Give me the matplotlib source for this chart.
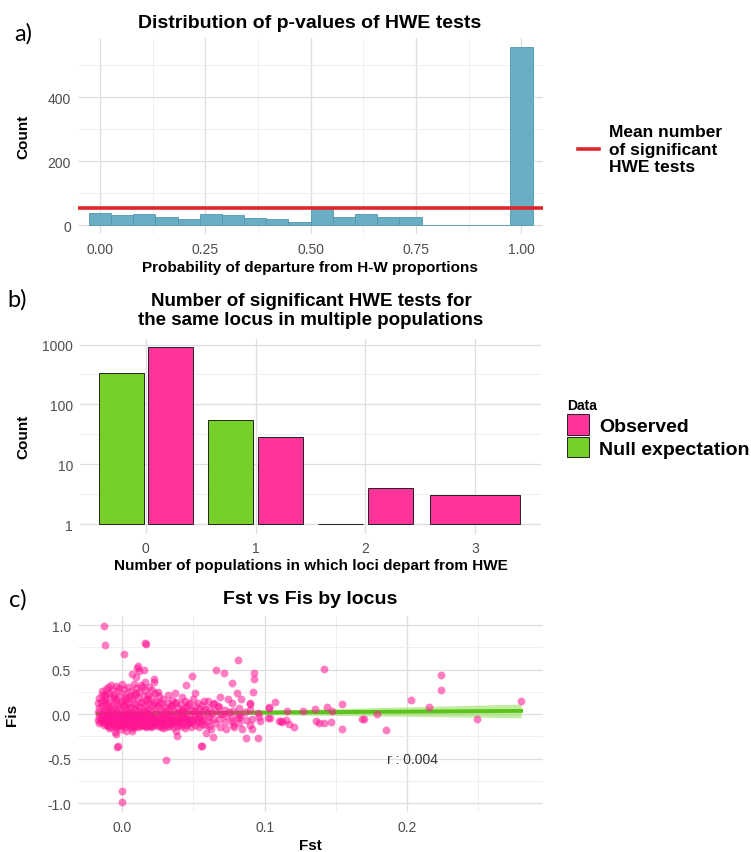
import matplotlib
matplotlib.use('Agg')
import matplotlib.pyplot as plt
import numpy as np
from matplotlib.lines import Line2D
from matplotlib.patches import Patch

plt.rcParams['font.family'] = ['Liberation Sans', 'DejaVu Sans']

# ---- a) p-values of HWE tests (20 bins over 0..1) ----
hwe_counts = [37, 31, 36, 25, 19, 36, 33, 23, 19, 10, 50, 25, 36, 24, 24, 0, 0, 0, 0, 559]
mean_sig_tests = 52
a_xticks = [0.0, 0.25, 0.5, 0.75, 1.0]
a_xticklabels = ['0.00', '0.25', '0.50', '0.75', '1.00']
a_yticks = [0, 200, 400]

# ---- b) significant HWE tests per locus ----
n_pops = [0, 1, 2, 3]
observed = [927, 29, 4, 3]
null_pops = [0, 1, 2]
null_exp = [333, 54, 1]
b_yticks = [1, 10, 100, 1000]

# ---- c) Fst vs Fis ----
loci_outliers = [
    (-0.0127, 0.99), (-0.012, 0.78), (0.001, 0.67), (0.0107, 0.52), (0.0072, 0.45),
    (-0.0045, -0.22), (-0.0033, -0.37), (-0.003, -0.36), (0.0002, -0.86), (0.0, -0.99),
    (0.007, -0.19), (0.0166, 0.79), (0.0162, 0.80), (0.0114, 0.54), (0.0224, 0.39),
    (0.0226, 0.36), (0.0248, 0.25), (0.037, 0.24), (0.0488, 0.43), (0.0446, 0.33),
    (0.051, 0.24), (0.0388, -0.25), (0.0306, -0.52), (0.055, -0.36),
    (0.0816, 0.61), (0.0657, 0.50), (0.0715, 0.46), (0.0769, 0.35), (0.0926, 0.46),
    (0.0926, 0.39), (0.092, 0.25), (0.0804, 0.24), (0.0832, 0.17), (0.090, 0.13),
    (0.0895, 0.11), (0.097, -0.075), (0.0914, -0.17), (0.0867, -0.27), (0.095, -0.27),
    (0.0844, -0.17), (0.0785, -0.15), (0.0727, -0.17), (0.064, -0.26), (0.0563, -0.36),
    (0.062, -0.17), (0.0587, -0.21), (0.069, 0.19), (0.074, 0.17), (0.0575, 0.15),
    (0.0645, 0.13), (0.067, 0.09), (0.081, -0.04), (0.082, -0.01), (0.0774, -0.075),
    (0.071, 0.0), (0.075, 0.02), (0.102, -0.04), (0.103, 0.075),
    (0.1417, 0.51), (0.1073, 0.14), (0.103, 0.07), (0.1036, -0.04), (0.1113, -0.075),
    (0.115, -0.07), (0.117, -0.11), (0.1206, -0.15), (0.110, -0.08), (0.1125, -0.085),
    (0.116, 0.04), (0.127, 0.03), (0.1354, 0.056), (0.1436, 0.082), (0.1476, 0.037),
    (0.136, -0.075), (0.138, -0.105), (0.1417, -0.105), (0.1464, -0.094), (0.154, 0.11),
    (0.1546, -0.17), (0.1686, -0.056), (0.170, -0.05), (0.179, 0.0), (0.185, -0.18),
    (0.2236, 0.44), (0.224, 0.27), (0.2025, 0.157), (0.2154, 0.082), (0.2493, -0.056),
    (0.28, 0.142),
]
loci_cluster = [
    (-0.016, 0.18), (-0.017, 0.12), (-0.016, 0.07), (-0.017, 0.02), (-0.016, -0.03),
    (-0.017, -0.07), (-0.016, -0.10), (-0.015, 0.14), (-0.015, -0.02), (-0.015, -0.06),
    (-0.014, 0.22), (-0.013, 0.15), (-0.014, 0.09), (-0.013, 0.04), (-0.014, 0.0),
    (-0.013, -0.05), (-0.014, -0.09), (-0.013, -0.12), (-0.014, 0.26),
    (-0.012, 0.20), (-0.011, 0.11), (-0.012, 0.06), (-0.011, -0.02), (-0.012, -0.06),
    (-0.011, -0.11), (-0.012, 0.16), (-0.011, 0.28),
    (-0.010, 0.30), (-0.009, 0.24), (-0.010, 0.13), (-0.009, 0.08), (-0.010, 0.03),
    (-0.009, -0.01), (-0.010, -0.04), (-0.009, -0.08), (-0.010, -0.13), (-0.009, -0.16),
    (-0.009, -0.09), (-0.008, -0.05), (-0.009, 0.0),
    (-0.008, 0.19), (-0.007, 0.10), (-0.008, 0.05), (-0.007, -0.03), (-0.008, -0.07),
    (-0.007, -0.10), (-0.008, -0.14), (-0.007, 0.27), (-0.008, 0.33),
    (-0.006, 0.22), (-0.005, 0.14), (-0.006, 0.06), (-0.005, 0.01), (-0.006, -0.05),
    (-0.005, -0.09), (-0.006, -0.12), (-0.005, -0.20),
    (-0.004, 0.32), (-0.003, 0.26), (-0.004, 0.17), (-0.003, 0.10), (-0.004, 0.03),
    (-0.003, -0.02), (-0.004, -0.06), (-0.003, -0.11), (-0.004, -0.15),
    (-0.003, -0.03), (-0.002, -0.09), (-0.003, -0.12),
    (-0.002, 0.20), (-0.001, 0.12), (-0.002, 0.07), (-0.001, 0.0), (-0.002, -0.04),
    (-0.001, -0.08), (-0.002, -0.13), (-0.001, -0.17),
    (0.000, 0.34), (0.001, 0.28), (0.000, 0.15), (0.001, 0.09), (0.000, 0.04),
    (0.001, -0.01), (0.000, -0.05), (0.001, -0.10), (0.000, -0.12),
    (0.002, 0.23), (0.003, 0.16), (0.002, 0.11), (0.003, 0.05), (0.002, 0.0),
    (0.003, -0.03), (0.002, -0.07), (0.003, -0.11), (0.002, -0.14), (0.003, -0.19),
    (0.003, -0.06), (0.004, -0.10), (0.003, -0.02),
    (0.004, 0.30), (0.005, 0.19), (0.004, 0.12), (0.005, 0.07), (0.004, 0.01),
    (0.005, -0.04), (0.004, -0.09), (0.005, -0.13),
    (0.006, 0.26), (0.007, 0.17), (0.006, 0.08), (0.007, 0.02), (0.006, -0.02),
    (0.007, -0.06), (0.006, -0.10), (0.007, -0.16),
    (0.008, 0.34), (0.009, 0.21), (0.008, 0.13), (0.009, 0.06), (0.008, 0.0),
    (0.009, -0.05), (0.008, -0.08), (0.009, -0.12), (0.008, -0.15),
    (0.009, -0.03), (0.010, -0.09), (0.009, -0.13),
    (0.010, 0.29), (0.011, 0.18), (0.010, 0.10), (0.011, 0.04), (0.010, -0.01),
    (0.011, -0.06), (0.010, -0.11), (0.011, -0.14), (0.010, 0.42),
    (0.012, 0.25), (0.013, 0.14), (0.012, 0.08), (0.013, 0.02), (0.012, -0.03),
    (0.013, -0.07), (0.012, -0.10), (0.013, -0.13), (0.012, 0.48),
    (0.014, 0.31), (0.015, 0.20), (0.014, 0.12), (0.015, 0.05), (0.014, -0.02),
    (0.015, -0.06), (0.014, -0.12), (0.015, 0.50),
    (0.015, -0.01), (0.016, -0.09), (0.015, -0.12),
    (0.016, 0.27), (0.017, 0.16), (0.016, 0.09), (0.017, 0.03), (0.016, -0.04),
    (0.017, -0.08), (0.016, -0.11), (0.017, -0.14), (0.016, 0.36),
    (0.018, 0.22), (0.019, 0.13), (0.018, 0.06), (0.019, 0.0), (0.018, -0.05),
    (0.019, -0.10), (0.018, -0.13), (0.019, 0.30),
    (0.020, 0.19), (0.021, 0.10), (0.020, 0.04), (0.021, -0.02), (0.020, -0.07),
    (0.021, -0.11), (0.020, -0.15), (0.021, 0.27),
    (0.021, -0.04), (0.022, -0.09), (0.021, -0.13),
    (0.023, 0.24), (0.024, 0.15), (0.023, 0.07), (0.024, 0.01), (0.023, -0.04),
    (0.024, -0.09), (0.023, -0.12),
    (0.026, 0.12), (0.027, 0.05), (0.026, -0.01), (0.027, -0.06), (0.026, -0.10),
    (0.027, -0.14), (0.026, 0.20), (0.027, -0.03), (0.028, -0.08), (0.027, -0.12),
    (0.029, 0.17), (0.030, 0.08), (0.029, 0.02), (0.030, -0.03), (0.029, -0.08),
    (0.030, -0.12), (0.029, -0.16),
    (0.032, 0.13), (0.033, 0.06), (0.032, 0.0), (0.033, -0.05), (0.032, -0.10),
    (0.033, -0.13), (0.032, 0.21), (0.033, -0.02), (0.034, -0.08),
    (0.035, 0.10), (0.036, 0.03), (0.035, -0.02), (0.036, -0.07), (0.035, -0.11),
    (0.036, -0.15), (0.035, 0.16),
    (0.038, 0.14), (0.039, 0.07), (0.038, 0.01), (0.039, -0.04), (0.038, -0.09),
    (0.039, -0.13), (0.038, -0.19), (0.039, -0.06), (0.040, -0.11),
    (0.041, 0.11), (0.042, 0.04), (0.041, -0.01), (0.042, -0.06), (0.041, -0.10),
    (0.042, 0.19),
    (0.044, 0.15), (0.045, 0.08), (0.044, 0.02), (0.045, -0.03), (0.044, -0.08),
    (0.045, -0.12), (0.044, -0.16), (0.045, -0.05), (0.046, -0.10),
    (0.047, 0.12), (0.048, 0.05), (0.047, -0.01), (0.048, -0.05), (0.047, -0.10),
    (0.048, -0.14),
    (0.050, 0.17), (0.051, 0.09), (0.050, 0.03), (0.051, -0.02), (0.050, -0.07),
    (0.051, -0.12),
    (0.053, 0.13), (0.054, 0.06), (0.053, 0.0), (0.054, -0.04), (0.053, -0.09),
    (0.054, -0.15),
    (0.056, 0.10), (0.057, 0.04), (0.056, -0.02), (0.057, -0.06), (0.056, -0.11),
    (0.060, 0.15), (0.061, 0.07), (0.060, 0.01), (0.061, -0.03), (0.060, -0.08),
    (0.061, -0.13),
    (0.064, 0.11), (0.065, 0.03), (0.064, -0.05), (0.065, -0.10),
    (0.068, 0.08), (0.069, 0.0), (0.068, -0.06), (0.069, -0.14),
    (0.072, 0.05), (0.073, -0.02), (0.072, -0.09),
    (0.077, 0.12), (0.078, 0.04), (0.077, -0.04), (0.078, -0.12),
    (0.082, 0.07), (0.083, -0.03), (0.082, -0.10),
    (0.086, 0.02), (0.087, -0.07),
    (0.090, 0.05), (0.091, -0.05), (0.090, -0.12),
    (0.095, 0.01), (0.096, -0.03),
]
loci_core = [
    (-0.015, -0.08), (-0.013, -0.03), (-0.011, -0.08), (-0.010, -0.12), (-0.007, -0.06),
    (-0.006, -0.01), (-0.005, -0.13), (-0.003, -0.07), (-0.001, -0.12), (0.000, -0.03),
    (0.001, -0.07), (0.002, -0.11), (0.004, -0.06), (0.005, -0.01), (0.006, -0.13),
    (0.007, -0.09), (0.008, -0.04), (0.010, -0.07), (0.011, -0.12), (0.012, -0.01),
    (0.013, -0.09), (0.014, -0.05), (0.016, -0.13), (0.017, -0.02), (0.018, -0.08),
    (0.019, -0.12), (0.020, -0.03), (0.022, -0.06), (0.023, -0.10), (0.025, -0.07),
    (0.025, -0.13), (0.028, -0.04), (0.029, -0.10), (0.031, -0.06), (0.031, -0.14),
    (0.034, -0.11), (0.036, -0.04), (0.037, -0.09), (0.040, -0.07), (0.042, -0.13),
    (0.043, -0.04), (0.046, -0.07), (0.049, -0.09), (0.052, -0.06), (0.055, -0.08),
    (0.058, -0.12),
    (-0.012, 0.23), (-0.006, 0.18), (-0.002, 0.29), (0.002, 0.19), (0.006, 0.22),
    (0.010, 0.24), (0.013, 0.33), (0.018, 0.17), (0.022, 0.12), (0.025, 0.09),
    (0.028, 0.13), (0.031, 0.04), (0.034, 0.09), (0.037, 0.12), (0.040, 0.02),
    (0.043, 0.06), (0.046, 0.10), (0.052, 0.03), (0.058, 0.06), (0.063, 0.01),
]
# linear fit reported on the chart (lm + 95% band)
fit_intercept = 0.008
fit_slope = 0.10
n_loci = 963
fis_resid_sd = 0.19
fst_mean = 0.028
fst_sd = 0.04
r_label = 'r : 0.004'
c_yticks = [-1.0, -0.5, 0.0, 0.5, 1.0]
c_yticklabels = ['-1.0', '-0.5', '0.0', '0.5', '1.0']
c_xticks = [0.0, 0.1, 0.2]
c_xticklabels = ['0.0', '0.1', '0.2']

# colours
hist_fill = '#69AEC4'
hist_edge = '#5397AD'
mean_red = '#E0262C'
pink = '#FF3399'
green = '#77CF2A'
point_pink = '#FF1493'
fit_green = '#5CC21C'
grid_major = '#DEDEDE'
grid_minor = '#EDEDED'
tick_grey = '#4D4D4D'

W, H = 751, 853
fig = plt.figure(figsize=(W / 100, H / 100), dpi=100)


def px(x, y):
    return x / W, 1 - y / H


def style(ax, xpad, ypad):
    for s in ax.spines.values():
        s.set_visible(False)
    ax.grid(True, which='major', color=grid_major, lw=0.9)
    ax.grid(True, which='minor', color=grid_minor, lw=0.6)
    ax.set_axisbelow(True)
    ax.tick_params(which='both', length=0, labelsize=10, labelcolor=tick_grey)
    ax.tick_params(axis='x', pad=xpad)
    ax.tick_params(axis='y', pad=ypad)


# ---------- a ----------
ax_a = fig.add_axes([78 / W, 1 - 235 / H, 464.5 / W, 196.4 / H])
bin_w = 1 / 19
centers = np.arange(len(hwe_counts)) * bin_w
ax_a.bar(centers, hwe_counts, width=bin_w, color=hist_fill, edgecolor=hist_edge, lw=0.6)
ax_a.axhline(mean_sig_tests, color=mean_red, lw=2.6)
ax_a.set_xlim(-0.052, 1.05)
ax_a.set_ylim(-28, 587)
ax_a.set_xticks(a_xticks)
ax_a.set_xticklabels(a_xticklabels)
ax_a.set_xticks([0.125, 0.375, 0.625, 0.875], minor=True)
ax_a.set_yticks(a_yticks)
ax_a.set_yticks([100, 300, 500], minor=True)
style(ax_a, 5.5, 5)
leg_a = ax_a.legend([Line2D([], [], color=mean_red, lw=2.6)],
                    ['Mean number\nof significant\nHWE tests'],
                    loc='center left', bbox_to_anchor=px(578, 150), bbox_transform=fig.transFigure,
                    frameon=False, borderpad=0, borderaxespad=0, handlelength=1.2,
                    handletextpad=0.6, prop={'weight': 'bold', 'size': 12.5})

fig.text(*px(310, 23), 'Distribution of p-values of HWE tests', ha='center', va='center',
         fontsize=14, fontweight='bold')
fig.text(*px(310, 268), 'Probability of departure from H-W proportions', ha='center',
         va='center', fontsize=11, fontweight='bold')
fig.text(*px(23, 137), 'Count', rotation=90, ha='center', va='center', fontsize=11,
         fontweight='bold')

# ---------- b ----------
ax_b = fig.add_axes([80 / W, 1 - 534.6 / H, 461 / W, 195 / H])
ax_b.set_yscale('log')
bw = 0.41
ax_b.bar(np.array(null_pops) - 0.225, np.array(null_exp) - 1, bottom=1, width=bw,
         color=green, edgecolor='#222222', lw=0.7)
obs_x = [p + 0.225 if p in null_pops else p for p in n_pops]
obs_w = [bw if p in null_pops else 0.82 for p in n_pops]
ax_b.bar(obs_x, np.array(observed) - 1, bottom=1, width=obs_w, color=pink,
         edgecolor='#222222', lw=0.7)
ax_b.set_xlim(-0.6, 3.6)
ax_b.set_ylim(10 ** -0.16, 10 ** 3.1)
ax_b.set_xticks(n_pops)
ax_b.set_xticklabels([str(p) for p in n_pops])
ax_b.set_yticks(b_yticks)
ax_b.set_yticklabels([str(t) for t in b_yticks])
ax_b.set_yticks([10 ** 0.5, 10 ** 1.5, 10 ** 2.5], minor=True)
ax_b.yaxis.set_minor_formatter(plt.NullFormatter())
style(ax_b, 5, 5)
ax_b.xaxis.grid(True, which='minor', color='none')
leg_b = ax_b.legend([Patch(facecolor=pink, edgecolor='#222222', lw=0.7),
                     Patch(facecolor=green, edgecolor='#222222', lw=0.7)],
                    ['Observed', 'Null expectation'], title='Data',
                    loc='upper left', bbox_to_anchor=px(567, 399), bbox_transform=fig.transFigure,
                    frameon=False, borderpad=0, borderaxespad=0, handlelength=1.15,
                    handleheight=1.25, handletextpad=0.5, labelspacing=0.1,
                    alignment='left', prop={'weight': 'bold', 'size': 14},
                    title_fontproperties={'weight': 'bold', 'size': 10})

fig.text(*px(311, 311), 'Number of significant HWE tests for\nthe same locus in multiple populations',
         ha='center', va='center', fontsize=13.5, fontweight='bold', linespacing=1.12)
fig.text(*px(311, 566), 'Number of populations in which loci depart from HWE', ha='center',
         va='center', fontsize=11, fontweight='bold')
fig.text(*px(23, 437), 'Count', rotation=90, ha='center', va='center', fontsize=11,
         fontweight='bold')

# ---------- c ----------
ax_c = fig.add_axes([78 / W, 1 - 813 / H, 464.5 / W, 195.8 / H])
pts = np.array(loci_cluster + loci_core + loci_outliers)
fst, fis = pts[:, 0], pts[:, 1]
xs = np.linspace(fst.min(), fst.max(), 100)
yfit = fit_intercept + fit_slope * xs
half = 1.96 * fis_resid_sd * np.sqrt(1 / n_loci + (xs - fst_mean) ** 2 / ((n_loci - 1) * fst_sd ** 2))
ax_c.fill_between(xs, yfit - half, yfit + half, color='#86DC45', alpha=0.5, lw=0)
ax_c.plot(xs, yfit, color=fit_green, lw=2.8)
ax_c.scatter(fst, fis, s=32, color=point_pink, alpha=0.55, lw=0, zorder=3)
ax_c.text(0.186, -0.5, r_label, fontsize=10, color='#333333', va='center', ha='left')
ax_c.set_xlim(-0.031, 0.295)
ax_c.set_ylim(-1.1, 1.1)
ax_c.set_xticks(c_xticks)
ax_c.set_xticklabels(c_xticklabels)
ax_c.set_xticks([0.05, 0.15, 0.25], minor=True)
ax_c.set_yticks(c_yticks)
ax_c.set_yticklabels(c_yticklabels)
ax_c.set_yticks([-0.75, -0.25, 0.25, 0.75], minor=True)
style(ax_c, 6, 5)

fig.text(*px(310, 600), 'Fst vs Fis by locus', ha='center', va='center', fontsize=14,
         fontweight='bold')
fig.text(*px(310, 846), 'Fst', ha='center', va='center', fontsize=11, fontweight='bold')
fig.text(*px(12, 715), 'Fis', rotation=90, ha='center', va='center', fontsize=11,
         fontweight='bold')

# panel letters
for lab, (x, y) in zip(['a)', 'b)', 'c)'], [(23, 34), (17, 300), (18, 600)]):
    fig.text(*px(x, y), lab, ha='center', va='center', fontsize=17, family='Lato')

fig.savefig('out.png', dpi=100)
